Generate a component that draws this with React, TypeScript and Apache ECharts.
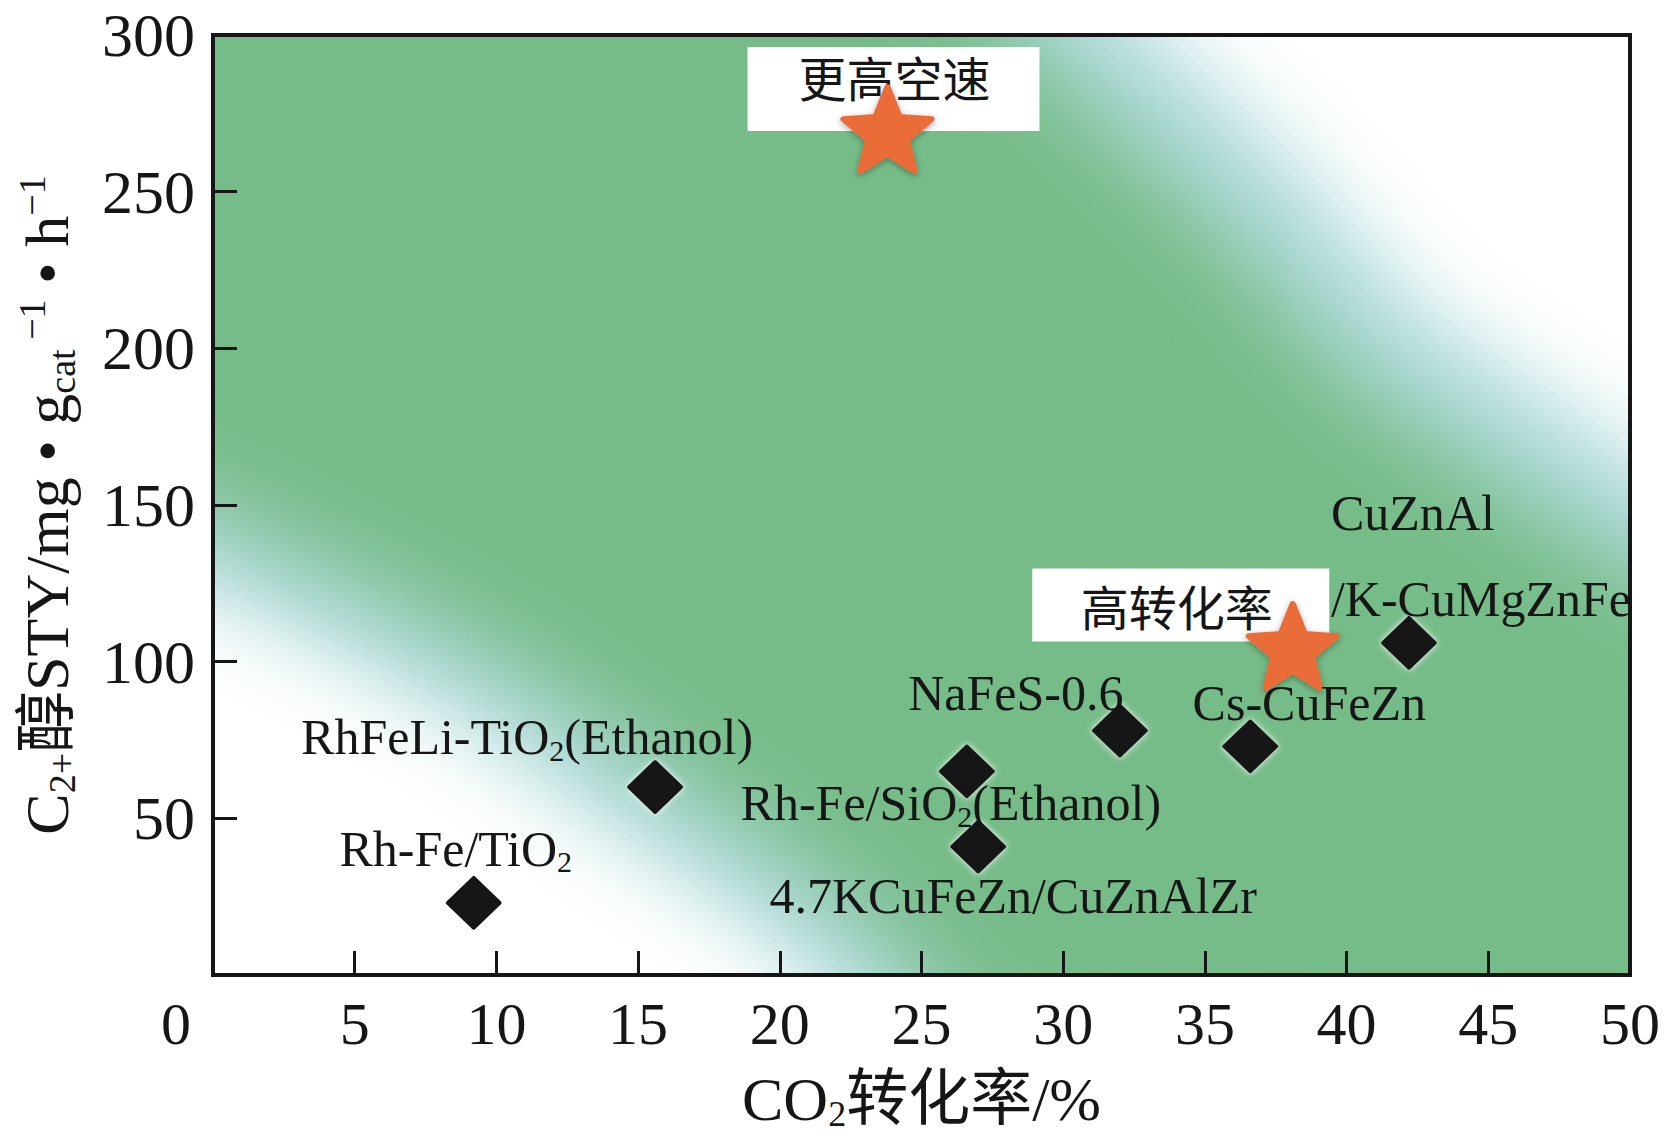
import React, { useEffect, useRef } from 'react';
import * as echarts from 'echarts';

// ---- axes ----
const X_MIN = 0;
const X_MAX = 50;
const X_STEP = 5;
const Y_MIN = 0;
const Y_MAX = 300;
const Y_STEP = 50;

// ---- catalysts (black diamonds) ----
const catalystNames = [
  'Rh-Fe/TiO2',
  'RhFeLi-TiO2(Ethanol)',
  'Rh-Fe/SiO2(Ethanol)',
  '4.7KCuFeZn/CuZnAlZr',
  'NaFeS-0.6',
  'Cs-CuFeZn',
  'CuZnAl/K-CuMgZnFe',
];
const catalystLabels = [
  'Rh-Fe/TiO{s|2}',
  'RhFeLi-TiO{s|2}(Ethanol)',
  'Rh-Fe/SiO{s|2}(Ethanol)',
  '4.7KCuFeZn/CuZnAlZr',
  'NaFeS-0.6',
  'Cs-CuFeZn',
  'CuZnAl\n/K-CuMgZnFe',
];
const co2Conversion = [9.2, 15.6, 26.6, 27.0, 32.0, 36.6, 42.2];
const c2Sty = [23, 60, 65, 41, 78, 73, 106];

// ---- highlighted results (orange stars) ----
const highlightNames = ['更高空速', '高转化率'];
const highlightConversion = [23.8, 38.1];
const highlightSty = [270, 105];

// ---- label layout (pixels, not data) ----
const catalystLabelLayout: any[] = [
  { offset: [-18, -54] },
  { offset: [-128, -50] },
  { offset: [-16, 32] },
  { offset: [35, 49] },
  { offset: [-104, -38] },
  { offset: [59, -43] },
  { offset: [-78, -87], align: 'left' },
];
const highlightBoxLayout: any[] = [
  { boxOffset: [6, -40], boxSize: [292, 84], textOffset: [7, -53] },
  { boxOffset: [-112, -41], boxSize: [297, 73], textOffset: [-116, -41] },
];

// ---- background band (data coords of the soft green region edges) ----
const bandLowerEdge = [
  [-8, 170], [0, 136], [5, 115], [10, 90], [15, 58], [20, 27], [23.5, 0], [26, -30],
];
const bandUpperEdge = [
  [60, 100], [50, 146], [41.3, 200], [36.7, 248], [30.6, 300], [27, 335],
];

const W = 1674;
const H = 1141;
const GRID = { left: 213, top: 35, right: 44, bottom: 166 };
const SERIF = "'Liberation Serif', 'Times New Roman', 'Noto Sans CJK SC', serif";
const CJK = "'Noto Sans CJK SC', sans-serif";
const INK = '#161616';

const STAR =
  'path://M50 0L62.93 32.2L97.55 34.55L70.92 56.8L79.39 90.45L50 72L20.61 90.45L29.08 56.8L2.45 34.55L37.07 32.2Z';

function makeBackground(w: number, h: number): string {
  const M = 200;
  const c = document.createElement('canvas');
  c.width = w + 2 * M;
  c.height = h + 2 * M;
  const ctx = c.getContext('2d')!;
  ctx.fillStyle = '#ffffff';
  ctx.fillRect(0, 0, c.width, c.height);
  const px = (x: number) => M + ((x - X_MIN) / (X_MAX - X_MIN)) * w;
  const py = (y: number) => M + (1 - (y - Y_MIN) / (Y_MAX - Y_MIN)) * h;
  const poly = (lower: number[][], upper: number[][], color: string, blur: number) => {
    const pts = [
      ...lower,
      [lower[lower.length - 1][0] + 40, -60],
      [upper[0][0], -60],
      ...upper,
      [upper[upper.length - 1][0], 360],
      [lower[0][0], 360],
    ];
    ctx.filter = `blur(${blur}px)`;
    ctx.fillStyle = color;
    ctx.beginPath();
    pts.forEach(([x, y], i) => (i ? ctx.lineTo(px(x), py(y)) : ctx.moveTo(px(x), py(y))));
    ctx.closePath();
    ctx.fill();
  };
  const shift = (pts: number[][], dx: number, dy: number) => pts.map(([x, y]) => [x + dx, y + dy]);
  poly(shift(bandLowerEdge, -1.2, -10), shift(bandUpperEdge, 1.4, 12), '#b1dbdd', 42);
  poly(shift(bandLowerEdge, 0.8, 8), shift(bandUpperEdge, -1.2, -10), '#76bc88', 46);
  ctx.filter = 'none';
  const out = document.createElement('canvas');
  out.width = w;
  out.height = h;
  out.getContext('2d')!.drawImage(c, M, M, w, h, 0, 0, w, h);
  return out.toDataURL('image/png');
}

export default function App() {
  const ref = useRef<HTMLDivElement>(null);

  useEffect(() => {
    if (!ref.current) return;
    const chart = echarts.init(ref.current, undefined, { renderer: 'svg', width: W, height: H });
    const gw = W - GRID.left - GRID.right;
    const gh = H - GRID.top - GRID.bottom;
    let bg = '';
    try {
      bg = makeBackground(gw, gh);
    } catch (e) {
      bg = '';
    }

    const subRich = {
      s: { fontFamily: SERIF, fontSize: 30, color: INK, verticalAlign: 'bottom', lineHeight: 30 },
    };

    const highlightPoints = highlightNames.map((n, i) => [highlightConversion[i], highlightSty[i]]);

    const option: any = {
      animation: false,
      backgroundColor: '#ffffff',
      grid: {
        ...GRID,
        show: true,
        borderColor: INK,
        borderWidth: 4,
        backgroundColor: 'transparent',
      },
      graphic: bg
        ? [
            {
              type: 'image',
              x: GRID.left,
              y: GRID.top,
              z: -10,
              silent: true,
              style: { image: bg, width: gw, height: gh },
            },
          ]
        : [],
      xAxis: {
        type: 'value',
        min: X_MIN,
        max: X_MAX,
        interval: X_STEP,
        splitLine: { show: false },
        axisLine: { show: true, lineStyle: { color: INK, width: 4 } },
        axisTick: { show: true, inside: true, length: 24, lineStyle: { color: INK, width: 3 } },
        axisLabel: {
          fontFamily: SERIF,
          fontSize: 60,
          color: INK,
          margin: 19,
          formatter: (v: number) => (v === 0 ? '{z|0}' : String(v)),
          rich: { z: { fontFamily: SERIF, fontSize: 60, color: INK, padding: [0, 74, 0, 0] } },
        },
        name: '{n|CO}{s|2}{n|转化率/%}',
        nameLocation: 'middle',
        nameGap: 91,
        nameTextStyle: {
          fontFamily: SERIF,
          fontSize: 62,
          color: INK,
          rich: {
            n: { fontFamily: SERIF, fontSize: 62, color: INK, lineHeight: 66 },
            s: { fontFamily: SERIF, fontSize: 36, color: INK, verticalAlign: 'bottom', lineHeight: 36 },
          },
        },
      },
      yAxis: {
        type: 'value',
        min: Y_MIN,
        max: Y_MAX,
        interval: Y_STEP,
        splitLine: { show: false },
        axisLine: { show: true, lineStyle: { color: INK, width: 4 } },
        axisTick: { show: true, inside: true, length: 24, lineStyle: { color: INK, width: 3 } },
        axisLabel: {
          fontFamily: SERIF,
          fontSize: 62,
          color: INK,
          margin: 18,
          formatter: (v: number) => (v === 0 ? '' : String(v)),
        },
        name: '{n|C}{s|2+}{n|醇STY/mg • g}{s|cat}{p| −1}{n| • h}{p|−1}',
        nameLocation: 'middle',
        nameGap: 132,
        nameTextStyle: {
          fontFamily: SERIF,
          fontSize: 62,
          color: INK,
          rich: {
            n: { fontFamily: SERIF, fontSize: 62, color: INK, lineHeight: 68 },
            s: { fontFamily: SERIF, fontSize: 38, color: INK, verticalAlign: 'bottom', lineHeight: 38 },
            p: { fontFamily: SERIF, fontSize: 38, color: INK, verticalAlign: 'top', lineHeight: 38 },
          },
        },
      },
      series: [
        {
          name: 'boxes',
          type: 'scatter',
          z: 2,
          symbol: 'circle',
          symbolSize: 1,
          itemStyle: { color: 'rgba(0,0,0,0)', opacity: 1 },
          silent: true,
          data: highlightPoints.map((p, i) => ({
            name: highlightNames[i] + ' box',
            value: p,
            label: {
              show: true,
              position: 'inside',
              formatter: ' ',
              offset: highlightBoxLayout[i].boxOffset,
              width: highlightBoxLayout[i].boxSize[0],
              height: highlightBoxLayout[i].boxSize[1],
              padding: 0,
              backgroundColor: '#ffffff',
              opacity: 1,
              fontSize: 10,
              align: 'center',
              verticalAlign: 'middle',
            },
          })),
        },
        {
          name: 'boxText',
          type: 'scatter',
          z: 2,
          symbol: 'circle',
          symbolSize: 1,
          itemStyle: { color: 'rgba(0,0,0,0)', opacity: 1 },
          silent: true,
          data: highlightPoints.map((p, i) => ({
            name: highlightNames[i],
            value: p,
            label: {
              show: true,
              position: 'inside',
              formatter: highlightNames[i],
              offset: highlightBoxLayout[i].textOffset,
              opacity: 1,
              fontFamily: CJK,
              fontSize: 48,
              lineHeight: 50,
              color: INK,
              align: 'center',
              verticalAlign: 'middle',
            },
          })),
        },
        {
          name: 'stars',
          type: 'scatter',
          z: 3,
          symbol: STAR,
          symbolSize: [88, 84],
          itemStyle: {
            color: '#ea6c38',
            borderColor: '#ea6c38',
            borderWidth: 6,
            borderJoin: 'round',
            opacity: 1,
            shadowBlur: 6,
            shadowColor: 'rgba(0,0,0,0.35)',
            shadowOffsetY: 2,
          },
          data: highlightPoints.map((p, i) => ({ name: highlightNames[i], value: p })),
        },
        {
          name: 'catalysts',
          type: 'scatter',
          z: 4,
          symbol: 'diamond',
          symbolSize: [52, 50],
          itemStyle: {
            color: '#121212',
            borderColor: '#121212',
            borderWidth: 4,
            borderJoin: 'round',
            opacity: 1,
            shadowBlur: 6,
            shadowColor: 'rgba(255,255,255,0.9)',
          },
          data: catalystNames.map((n, i) => ({
            name: n,
            value: [co2Conversion[i], c2Sty[i]],
            label: {
              show: true,
              position: 'inside',
              formatter: catalystLabels[i],
              offset: catalystLabelLayout[i].offset,
              align: catalystLabelLayout[i].align || 'center',
              verticalAlign: 'middle',
              opacity: 1,
              fontFamily: SERIF,
              fontSize: 50,
              lineHeight: i === 6 ? 86 : 56,
              color: INK,
              textBorderWidth: 0,
              rich: subRich,
            },
          })),
        },
      ],
    };
    chart.setOption(option);
    return () => chart.dispose();
  }, []);

  return <div ref={ref} style={{ position: 'absolute', left: 0, top: 0, width: W, height: H }} />;
}
